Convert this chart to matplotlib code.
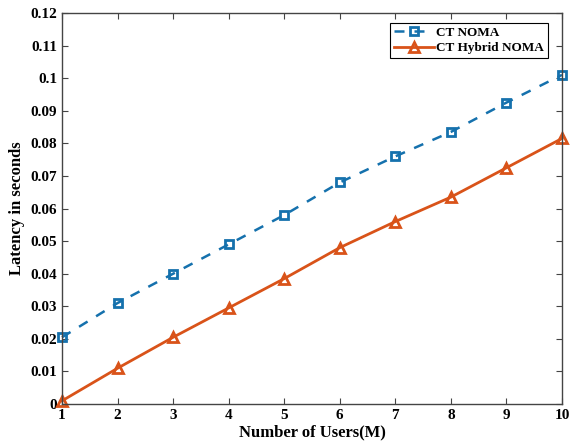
import numpy as np
import matplotlib
matplotlib.use('Agg')
import matplotlib.pyplot as plt

plt.rcParams['font.family'] = ['Liberation Serif', 'DejaVu Serif']
plt.rcParams['font.weight'] = 'bold'

users = [1, 2, 3, 4, 5, 6, 7, 8, 9, 10]
ct_noma = [0.0205, 0.031, 0.040, 0.049, 0.058, 0.068, 0.076, 0.0835, 0.0925, 0.101]
ct_hybrid = [0.001, 0.011, 0.0205, 0.0295, 0.0385, 0.048, 0.056, 0.0635, 0.0725, 0.0815]
yticks = [0, 0.01, 0.02, 0.03, 0.04, 0.05, 0.06, 0.07, 0.08, 0.09, 0.1, 0.11, 0.12]
ylabels = ['0', '0.01', '0.02', '0.03', '0.04', '0.05', '0.06', '0.07', '0.08', '0.09', '0.1', '0.11', '0.12']

fig = plt.figure(figsize=(5.77, 4.47), dpi=100)
ax = fig.add_axes([0.1075, 0.096, 0.8665, 0.875])

ax.plot(users, ct_noma, '--s', color='#1571AD', lw=1.8, ms=5.5, mfc='none', mew=2,
        dashes=(4, 4), label='CT NOMA', clip_on=False)
ax.plot(users, ct_hybrid, '-^', color='#D95319', lw=2, ms=7.5, mfc='none', mew=2,
        label='CT Hybrid NOMA', clip_on=False)

ax.set_xlim(1, 10)
ax.set_ylim(0, 0.12)
ax.set_xticks(users)
ax.set_yticks(yticks)
ax.set_yticklabels(ylabels)
ax.tick_params(direction='in', top=True, right=True, labelsize=11, color='#444444', length=4)
for s in ax.spines.values():
    s.set_color('#444444')
    s.set_linewidth(1)

ax.set_xlabel('Number of Users(M)', fontsize=12, fontweight='bold', labelpad=2)
ax.set_ylabel('Latency in seconds', fontsize=12, fontweight='bold', labelpad=4)

leg = ax.legend(loc='upper right', bbox_to_anchor=(0.972, 0.975), fontsize=9.5, fancybox=False,
                edgecolor='black', framealpha=1, borderpad=0.3, labelspacing=0.25,
                handlelength=3.0, handletextpad=0.2, borderaxespad=0)
leg.get_frame().set_linewidth(0.8)

fig.savefig('out.png', dpi=100)
